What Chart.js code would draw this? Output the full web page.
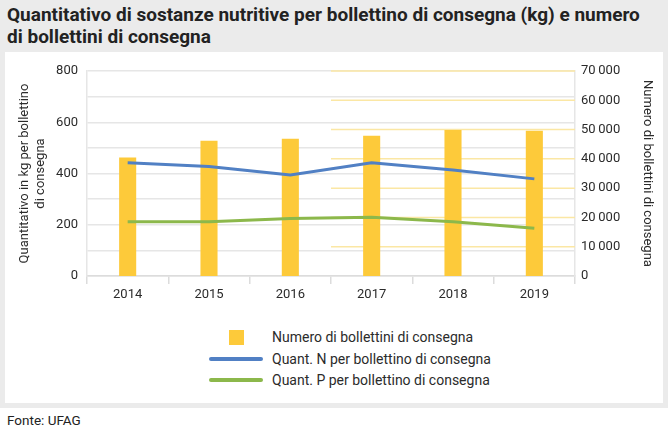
<!DOCTYPE html>
<html>
<head>
<meta charset="utf-8">
<script src="https://cdn.jsdelivr.net/npm/chart.js@4"></script>
<style>
  body { margin: 0; width: 668px; height: 436px; background: #fff; font-family: Roboto, sans-serif; color: #222; overflow: hidden; }
  #box { position: absolute; left: 0; top: 0; width: 668px; height: 408px; background: #ebebeb; }
  #title { position: absolute; left: 7px; top: 4px; font-size: 19px; font-weight: bold; line-height: 22px; color: #222; white-space: nowrap; }
  #panel { position: absolute; left: 5px; top: 52px; width: 658px; height: 351px; background: #fff; }
  #wrap { position: absolute; left: 0; top: 0; width: 658px; height: 255px; }
  #legend { position: absolute; left: 0; top: 0; }
  .row { position: absolute; height: 20px; font-size: 14px; line-height: 20px; white-space: nowrap; }
  .sw { position: absolute; }
  #source { position: absolute; left: 7px; top: 412px; font-size: 13.5px; color: #222; }
</style>
</head>
<body>
<div id="box">
  <div id="title">Quantitativo di sostanze nutritive per bollettino di consegna (kg) e numero<br>di bollettini di consegna</div>
  <div id="panel">
    <div id="wrap"><canvas id="chart"></canvas></div>
    <div id="legend"></div>
  </div>
</div>
<div id="source">Fonte: UFAG</div>
<script>
const years = ["2014", "2015", "2016", "2017", "2018", "2019"];
const bollettini = [40500, 46200, 46900, 47900, 49850, 49600];
const quantN = [442, 427, 394, 442, 414, 379];
const quantP = [212, 212, 224, 229, 212, 186];
const leftTitle = ["Quantitativo in kg per bollettino", "di consegna"];
const rightTitle = "Numero di bollettini di consegna";

const fontFamily = "Roboto, sans-serif";
const textColor = "#2b2b2b";

// yellow grid lines of the right axis, only in the right half (as in the original)
const rightGrid = {
  id: "rightGrid",
  beforeDatasetsDraw(chart) {
    const x = chart.scales.x;
    const y1 = chart.scales.y1;
    const start = (x.getPixelForValue(2) + x.getPixelForValue(3)) / 2;
    const c = chart.ctx;
    c.save();
    c.strokeStyle = "#fbe7a4";
    c.lineWidth = 1.5;
    y1.ticks.forEach(t => {
      if (t.value === 0) return;
      const py = y1.getPixelForValue(t.value);
      c.beginPath();
      c.moveTo(start, py);
      c.lineTo(chart.chartArea.right, py);
      c.stroke();
    });
    c.restore();
  }
};

const chart = new Chart(document.getElementById("chart"), {
  type: "bar",
  data: {
    labels: years,
    datasets: [
      {
        type: "line",
        label: "Quant. N per bollettino di consegna",
        data: quantN,
        yAxisID: "y",
        borderColor: "#5180c4",
        backgroundColor: "#5180c4",
        borderWidth: 3,
        pointRadius: 0,
        tension: 0,
        order: 1,
      },
      {
        type: "line",
        label: "Quant. P per bollettino di consegna",
        data: quantP,
        yAxisID: "y",
        borderColor: "#8cb84b",
        backgroundColor: "#8cb84b",
        borderWidth: 3,
        pointRadius: 0,
        tension: 0,
        order: 1,
      },
      {
        label: "Numero di bollettini di consegna",
        data: bollettini,
        yAxisID: "y1",
        backgroundColor: "#fdca3a",
        categoryPercentage: 1,
        barPercentage: 0.21,
        order: 2,
      },
    ],
  },
  options: {
    responsive: true,
    maintainAspectRatio: false,
    animation: false,
    layout: { padding: { top: 19, left: 0, right: 0, bottom: 0 } },
    plugins: { legend: { display: false }, tooltip: { enabled: false } },
    scales: {
      x: {
        offset: true,
        grid: { offset: true, drawOnChartArea: false, color: "#dcdcdc", lineWidth: 1.5, tickLength: 8 },
        border: { color: "#dcdcdc", width: 1.5 },
        ticks: { color: textColor, font: { family: fontFamily, size: 13 }, padding: 3 },
        afterFit(s) { s.height = 31; },
      },
      y: {
        position: "left",
        min: 0,
        max: 800,
        ticks: {
          stepSize: 200,
          color: textColor,
          font: { family: fontFamily, size: 13 },
          padding: 9,
        },
        grid: { color: "#e6e6e6", lineWidth: 1.5, drawTicks: false },
        border: { color: "#e6e6e6", width: 1.5 },
        afterBuildTicks(s) {
          // gray grid every 100
          const t = [];
          for (let v = 0; v <= 800; v += 100) t.push({ value: v });
          s.ticks = t;
        },
        afterTickToLabelConversion(s) {
          s.ticks.forEach(t => { t.label = t.value % 200 === 0 ? String(t.value) : ""; });
        },
        title: {
          display: true,
          text: leftTitle,
          color: textColor,
          font: { family: fontFamily, size: 13 },
          lineHeight: 1.1,
          padding: { top: 12, bottom: 4 },
        },
        afterFit(s) { s.width = 82; },
      },
      y1: {
        position: "right",
        min: 0,
        max: 70000,
        ticks: {
          stepSize: 10000,
          color: textColor,
          font: { family: fontFamily, size: 13 },
          padding: 6,
          callback: v => String(v).replace(/\B(?=(\d{3})+(?!\d))/g, "\u2009"),
        },
        grid: { display: false, drawTicks: false },
        border: { color: "#e6e6e6", width: 1.5 },
        title: {
          display: true,
          text: rightTitle,
          color: textColor,
          font: { family: fontFamily, size: 13 },
          padding: { top: 8, bottom: 0 },
        },
        afterFit(s) { s.width = 88; },
      },
    },
  },
  plugins: [rightGrid],
});

// legend built from the datasets: bar first, then the lines
const legend = document.getElementById("legend");
const legendOrder = [2, 0, 1];
const rowTops = [275, 297, 318];
legendOrder.forEach((di, i) => {
  const ds = chart.data.datasets[di];
  const row = document.createElement("div");
  row.className = "row";
  row.style.left = "0px";
  row.style.top = rowTops[i] + "px";
  row.style.width = "600px";
  const sw = document.createElement("div");
  sw.className = "sw";
  if (ds.type === "line") {
    sw.style.left = "204px"; sw.style.top = "8px";
    sw.style.width = "54px"; sw.style.height = "4px";
    sw.style.borderRadius = "2px";
    sw.style.background = ds.borderColor;
  } else {
    sw.style.left = "224px"; sw.style.top = "3px";
    sw.style.width = "15px"; sw.style.height = "15px";
    sw.style.background = ds.backgroundColor;
  }
  const txt = document.createElement("span");
  txt.style.position = "absolute";
  txt.style.left = "267px";
  txt.style.color = textColor;
  txt.textContent = ds.label;
  row.appendChild(sw);
  row.appendChild(txt);
  legend.appendChild(row);
});
</script>
</body>
</html>
